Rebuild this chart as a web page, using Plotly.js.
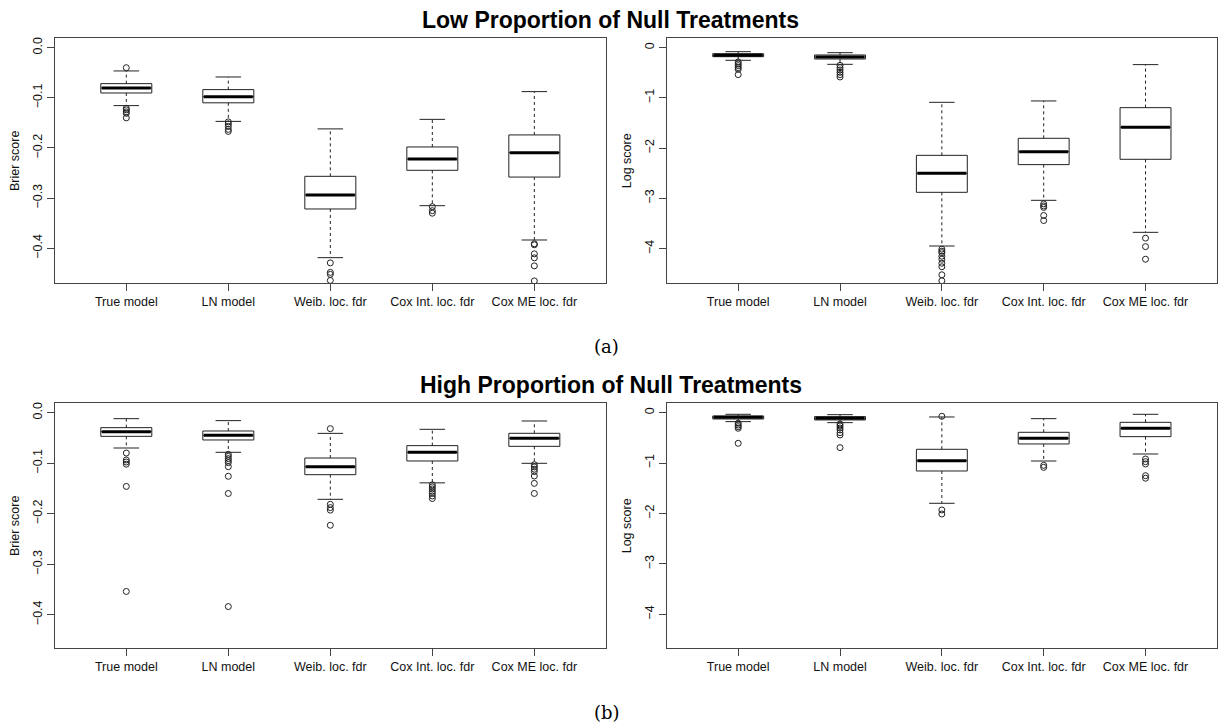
<!DOCTYPE html>
<html><head><meta charset="utf-8">
<script src="https://cdn.plot.ly/plotly-3.0.1.min.js"></script>
<style>html,body{margin:0;padding:0;background:#fff}#chart{width:1221px;height:728px}</style>
</head><body><div id="chart"></div>
<script>
const categories = ["True model", "LN model", "Weib. loc. fdr", "Cox Int. loc. fdr", "Cox ME loc. fdr"];
const positions = [1, 2, 3, 4, 5];

// (a) Low proportion of null treatments - Brier score
const lowBrierUpper  = [-0.0465, -0.0585, -0.162, -0.143, -0.0877];
const lowBrierQ3     = [-0.0718, -0.0837, -0.2565, -0.198, -0.174];
const lowBrierMedian = [-0.0804, -0.0977, -0.2937, -0.222, -0.2093];
const lowBrierQ1     = [-0.0904, -0.110, -0.3216, -0.2445, -0.258];
const lowBrierLower  = [-0.1156, -0.147, -0.4186, -0.315, -0.3834];
const lowBrierOutliers = [
  [-0.040, -0.121, -0.124, -0.128, -0.131, -0.140],
  [-0.148, -0.152, -0.157, -0.163, -0.167],
  [-0.429, -0.448, -0.452, -0.464],
  [-0.317, -0.325, -0.330],
  [-0.391, -0.393, -0.411, -0.419, -0.435, -0.465]
];

// (a) Low proportion - Log score
const lowLogUpper  = [-0.08, -0.10, -1.088, -1.061, -0.338];
const lowLogQ3     = [-0.12, -0.146, -2.143, -1.804, -1.194];
const lowLogMedian = [-0.153, -0.186, -2.50, -2.07, -1.585];
const lowLogQ1     = [-0.18, -0.226, -2.879, -2.328, -2.222];
const lowLogLower  = [-0.252, -0.332, -3.947, -3.038, -3.675];
const lowLogOutliers = [
  [-0.285, -0.325, -0.358, -0.398, -0.431, -0.537],
  [-0.352, -0.398, -0.444, -0.491, -0.537, -0.584],
  [-4.01, -4.05, -4.08, -4.15, -4.21, -4.29, -4.36, -4.52, -4.64],
  [-3.11, -3.15, -3.18, -3.34, -3.44],
  [-3.79, -3.96, -4.21]
];

// (b) High proportion - Brier score
const highBrierUpper  = [-0.0119, -0.0158, -0.041, -0.033, -0.0165];
const highBrierQ3     = [-0.0297, -0.0363, -0.0898, -0.0653, -0.0409];
const highBrierMedian = [-0.0376, -0.0449, -0.107, -0.0785, -0.0508];
const highBrierQ1     = [-0.0469, -0.0541, -0.1228, -0.0957, -0.0667];
const highBrierLower  = [-0.070, -0.0785, -0.1716, -0.139, -0.1003];
const highBrierOutliers = [
  [-0.080, -0.0937, -0.0977, -0.102, -0.146, -0.354],
  [-0.0825, -0.0865, -0.091, -0.095, -0.099, -0.107, -0.126, -0.160, -0.384],
  [-0.0317, -0.1815, -0.188, -0.193, -0.223],
  [-0.143, -0.147, -0.151, -0.156, -0.160, -0.165, -0.170],
  [-0.103, -0.1075, -0.112, -0.1167, -0.1254, -0.140, -0.160]
];

// (b) High proportion - Log score
const highLogUpper  = [-0.033, -0.04, -0.086, -0.119, -0.033];
const highLogQ3     = [-0.066, -0.079, -0.727, -0.39, -0.192];
const highLogMedian = [-0.0926, -0.112, -0.952, -0.509, -0.311];
const highLogQ1     = [-0.126, -0.145, -1.157, -0.621, -0.476];
const highLogLower  = [-0.178, -0.198, -1.798, -0.959, -0.82];
const highLogOutliers = [
  [-0.21, -0.245, -0.278, -0.31, -0.608],
  [-0.225, -0.264, -0.304, -0.344, -0.397, -0.443, -0.694],
  [-0.072, -1.93, -2.01],
  [-1.045, -1.085],
  [-0.919, -0.972, -1.018, -1.25, -1.30]
];

const panels = [
  {xa: 'x', ya: 'y', up: lowBrierUpper, q3: lowBrierQ3, med: lowBrierMedian, q1: lowBrierQ1, lo: lowBrierLower, out: lowBrierOutliers},
  {xa: 'x2', ya: 'y2', up: lowLogUpper, q3: lowLogQ3, med: lowLogMedian, q1: lowLogQ1, lo: lowLogLower, out: lowLogOutliers},
  {xa: 'x3', ya: 'y3', up: highBrierUpper, q3: highBrierQ3, med: highBrierMedian, q1: highBrierQ1, lo: highBrierLower, out: highBrierOutliers},
  {xa: 'x4', ya: 'y4', up: highLogUpper, q3: highLogQ3, med: highLogMedian, q1: highLogQ1, lo: highLogLower, out: highLogOutliers}
];

const BOXW = 0.5, CAPW = 0.25;
const ink = '#222';
const traces = [];
panels.forEach(p => {
  traces.push({
    type: 'box', xaxis: p.xa, yaxis: p.ya, x: positions,
    q1: p.q1, median: p.med, q3: p.q3, lowerfence: p.q1, upperfence: p.q3,
    width: BOXW, whiskerwidth: 0, boxpoints: false,
    fillcolor: '#ffffff', line: {color: ink, width: 1}, hoverinfo: 'skip', showlegend: false
  });
  // dashed whiskers
  const wx = [], wy = [];
  positions.forEach((c, i) => {
    wx.push(c, c, null, c, c, null);
    wy.push(p.q3[i], p.up[i], null, p.q1[i], p.lo[i], null);
  });
  traces.push({type: 'scatter', mode: 'lines', xaxis: p.xa, yaxis: p.ya, x: wx, y: wy,
    line: {color: ink, width: 1, dash: '3px,3px'}, hoverinfo: 'skip', showlegend: false});
  // whisker caps
  const cx = [], cy = [];
  positions.forEach((c, i) => {
    cx.push(c - CAPW / 2, c + CAPW / 2, null, c - CAPW / 2, c + CAPW / 2, null);
    cy.push(p.up[i], p.up[i], null, p.lo[i], p.lo[i], null);
  });
  traces.push({type: 'scatter', mode: 'lines', xaxis: p.xa, yaxis: p.ya, x: cx, y: cy,
    line: {color: ink, width: 1}, hoverinfo: 'skip', showlegend: false});
  // thick medians
  const mx = [], my = [];
  positions.forEach((c, i) => {
    mx.push(c - BOXW / 2 + 0.01, c + BOXW / 2 - 0.01, null);
    my.push(p.med[i], p.med[i], null);
  });
  traces.push({type: 'scatter', mode: 'lines', xaxis: p.xa, yaxis: p.ya, x: mx, y: my,
    line: {color: '#000', width: 3}, hoverinfo: 'skip', showlegend: false});
  // outliers
  const ox = [], oy = [];
  positions.forEach((c, i) => { p.out[i].forEach(v => { ox.push(c); oy.push(v); }); });
  traces.push({type: 'scatter', mode: 'markers', xaxis: p.xa, yaxis: p.ya, x: ox, y: oy,
    marker: {symbol: 'circle-open', size: 6, color: ink, line: {width: 1, color: ink}},
    hoverinfo: 'skip', showlegend: false});
});

const font = {family: 'Liberation Sans, Arial, sans-serif', size: 12.5, color: '#111'};
function xax(dom, anchor) {
  return {domain: dom, anchor: anchor, range: [0.3, 5.7], tickvals: positions, ticktext: categories,
    showgrid: false, zeroline: false, showline: true, mirror: true, linecolor: '#444', linewidth: 1,
    ticks: 'outside', ticklen: 7, tickcolor: '#444', tickfont: font, fixedrange: true};
}
function yax(dom, anchor, range, dtick, fmt, title) {
  return {domain: dom, anchor: anchor, range: range, dtick: dtick, tick0: 0, tickformat: fmt,
    showgrid: false, zeroline: false, showline: true, mirror: true, linecolor: '#444', linewidth: 1,
    ticks: 'outside', ticklen: 7, tickcolor: '#444', tickfont: font, tickangle: -90,
    title: {text: title, font: font, standoff: 8}, fixedrange: true};
}
const xL = [0.04496, 0.4961], xR = [0.5462, 0.99656];
const yT = [0.6108, 0.9474], yB = [0.1094, 0.446];

const layout = {
  width: 1221, height: 728, margin: {l: 0, r: 0, t: 0, b: 0},
  paper_bgcolor: '#fff', plot_bgcolor: '#fff', showlegend: false,
  xaxis: xax(xL, 'y'), yaxis: yax(yT, 'x', [-0.4698, 0.0186], 0.1, '.1f', 'Brier score'),
  xaxis2: xax(xR, 'y2'), yaxis2: yax(yT, 'x2', [-4.69, 0.186], 1, 'd', 'Log score'),
  xaxis3: xax(xL, 'y3'), yaxis3: yax(yB, 'x3', [-0.4667, 0.0185], 0.1, '.1f', 'Brier score'),
  xaxis4: xax(xR, 'y4'), yaxis4: yax(yB, 'x4', [-4.674, 0.185], 1, 'd', 'Log score'),
  annotations: [
    {text: '<b>Low Proportion of Null Treatments</b>', xref: 'paper', yref: 'paper', x: 0.5, y: 1 - 20 / 728,
      xanchor: 'center', yanchor: 'middle', showarrow: false, font: {family: 'Liberation Sans, Arial, sans-serif', size: 23, color: '#000'}},
    {text: '<b>High Proportion of Null Treatments</b>', xref: 'paper', yref: 'paper', x: 0.5, y: 1 - 385 / 728,
      xanchor: 'center', yanchor: 'middle', showarrow: false, font: {family: 'Liberation Sans, Arial, sans-serif', size: 23, color: '#000'}},
    {text: '(a)', xref: 'paper', yref: 'paper', x: 0.497, y: 1 - 346 / 728,
      xanchor: 'center', yanchor: 'middle', showarrow: false, font: {family: 'DejaVu Serif, Liberation Serif, serif', size: 18, color: '#000'}},
    {text: '(b)', xref: 'paper', yref: 'paper', x: 0.497, y: 1 - 712 / 728,
      xanchor: 'center', yanchor: 'middle', showarrow: false, font: {family: 'DejaVu Serif, Liberation Serif, serif', size: 18, color: '#000'}}
  ]
};
Plotly.newPlot('chart', traces, layout, {staticPlot: true, displayModeBar: false});
</script></body></html>
